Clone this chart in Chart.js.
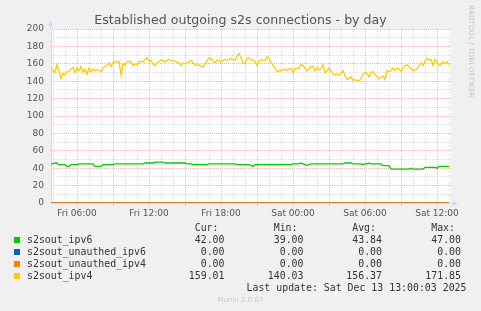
<!DOCTYPE html>
<html>
<head>
<meta charset="utf-8">
<script src="https://cdn.jsdelivr.net/npm/chart.js@4.4.1/dist/chart.umd.min.js"></script>
<style>
  html, body { margin: 0; padding: 0; background: #f0f0f0; }
  #wrap { position: relative; width: 481px; height: 311px; overflow: hidden; font-family: "DejaVu Sans", sans-serif; }
  #c { position: absolute; left: 0; top: 0; }
  .txt { position: absolute; white-space: pre; line-height: 12px; }
  .mono { font-family: "DejaVu Sans Mono", monospace; font-size: 9.9px; color: #333; }
  #title { left: 0; width: 481px; top: 12px; text-align: center; font-size: 12.6px; color: #555; line-height: 15px; }
  #rrd { left: 466px; top: 5px; writing-mode: vertical-rl; font-size: 7.2px; color: #c4c4c4; line-height: 10px; }
  #munin { left: 0; width: 481px; top: 295px; text-align: center; font-size: 7px; color: #c8c8c8; line-height: 10px; }
  .sw { position: absolute; width: 6px; height: 6px; }
</style>
</head>
<body>
<div id="wrap">
  <canvas id="c" width="481" height="311"></canvas>
  <div id="title" class="txt">Established outgoing s2s connections - by day</div>
  <div id="rrd" class="txt">RRDTOOL / TOBI OETIKER</div>
  <div id="munin" class="txt">Munin 2.0.67</div>
</div>
<script>
// samples every 10 minutes, first one Fri 03:50 (hours counted from Fri 00:00)
const startHour = 3 + 50 / 60;
const stepHours = 10 / 60;

const ipv6 = [
  45,45,46,46,44,44,44,44,42,42, 44,44,44,44,45,45,45,45,45,45,
  45,45,42,42,42,42,44,44,44,44, 44,44,45,45,45,45,45,45,45,45,
  45,45,45,45,45,45,45,46,46,46, 46,46,47,47,47,47,47,46,46,46,
  46,46,46,46,46,46,46,46,45,45, 45,44,44,44,44,44,44,44,44,45,
  45,45,45,45,45,45,45,45,45,45, 45,45,45,44,44,44,44,44,44,44,
  43,42,44,44,44,44,44,44,44,44, 44,44,44,44,44,44,44,44,44,44,
  44,45,45,45,45,46,45,44,43,44, 45,45,45,45,45,45,45,45,45,45,
  45,45,45,45,45,45,45,46,46,46, 46,45,45,45,45,45,44,45,45,46,
  45,45,45,45,45,45,43,43,43,43, 39,39,39,39,39,39,39,39,39,39,
  40,39,39,39,39,39,39,41,41,41, 41,41,41,40,42,42,42,42,42,42
];
const ipv4 = [
  156,152,150,159,152,143,149,147,151,151, 154,156,150,155,152,157,150,154,148,155,
  151,154,152,153,153,151,155,157,158,161, 157,161,163,162,163,147,160,158,162,163,
  162,158,160,159,162,163,162,165,167,163, 164,160,158,161,163,164,164,162,164,165,
  164,163,163,162,161,158,161,160,161,162, 164,161,159,158,159,157,156,160,163,167,
  166,163,161,164,164,162,164,165,164,165, 166,165,164,168,171.85,167,161,160,166,167,
  164,165,163,158,163,165,164,164,168,166, 162,158,155,151,152,152,153,154,152,154,
  155,150,154,155,155,159,158,155,152,154, 157,157,152,156,153,154,159,150,152,155,
  152,148,147,148,147,149,152,146,142,143, 145,141,142,141,140.03,143,148,150,149,145,
  150,151,148,145,143,145,146,142,152,151, 152,155,152,155,154,151,155,158,159,157,
  155,152,153,154,158,161,158,163,166,164, 165,158,165,162,158,159,162,160,162,159.01
];
const unauthedIpv6 = [0, 0];
const unauthedIpv4 = [0, 0];

const xTickHours = [6, 12, 18, 24, 30, 36];
const xTickLabels = ['Fri 06:00', 'Fri 12:00', 'Fri 18:00', 'Sat 00:00', 'Sat 06:00', 'Sat 12:00'];

const legendNames = ['s2sout_ipv6', 's2sout_unauthed_ipv6', 's2sout_unauthed_ipv4', 's2sout_ipv4'];
const legendColors = ['#00CC00', '#0066B3', '#FF8000', '#FFCC00'];
const curVals = ['42.00', '0.00', '0.00', '159.01'];
const minVals = ['39.00', '0.00', '0.00', '140.03'];
const avgVals = ['43.84', '0.00', '0.00', '156.37'];
const maxVals = ['47.00', '0.00', '0.00', '171.85'];
const lastUpdate = 'Last update: Sat Dec 13 13:00:03 2025';

const times = ipv4.map((_, i) => startHour + i * stepHours);
const edgeTimes = [times[0], times[times.length - 1]];
const pts = (vals, ts) => vals.map((v, i) => ({ x: ts[i], y: v }));

const MAJOR = '#ebbcbc', MINOR = '#dedede', AXIS = '#CFD6F8';

// white canvas behind the plot, axis arrows like rrdtool
const muninFrame = {
  id: 'muninFrame',
  beforeDraw(chart) {
    const { ctx, chartArea: a } = chart;
    ctx.save();
    ctx.fillStyle = '#fff';
    ctx.fillRect(a.left, a.top, a.right - a.left, a.bottom - a.top);
    ctx.restore();
  },
  afterDraw(chart) {
    const { ctx, chartArea: a } = chart;
    ctx.save();
    ctx.strokeStyle = AXIS;
    ctx.fillStyle = AXIS;
    ctx.lineWidth = 1;
    ctx.beginPath();
    ctx.moveTo(a.left - 0.5, a.top);
    ctx.lineTo(a.left - 0.5, a.top - 4);
    ctx.moveTo(a.right, a.bottom + 0.5);
    ctx.lineTo(a.right + 3, a.bottom + 0.5);
    ctx.stroke();
    ctx.beginPath();
    ctx.moveTo(a.left - 3, a.top - 3);
    ctx.lineTo(a.left + 2, a.top - 3);
    ctx.lineTo(a.left - 0.5, a.top - 8);
    ctx.closePath();
    ctx.fill();
    ctx.beginPath();
    ctx.moveTo(a.right + 2, a.bottom - 2);
    ctx.lineTo(a.right + 2, a.bottom + 3);
    ctx.lineTo(a.right + 7, a.bottom + 0.5);
    ctx.closePath();
    ctx.fill();
    ctx.restore();
  }
};

new Chart(document.getElementById('c').getContext('2d'), {
  type: 'line',
  data: {
    datasets: [
      { label: legendNames[0], data: pts(ipv6, times), borderColor: legendColors[0], order: 4 },
      { label: legendNames[1], data: pts(unauthedIpv6, edgeTimes), borderColor: legendColors[1], order: 3 },
      { label: legendNames[2], data: pts(unauthedIpv4, edgeTimes), borderColor: legendColors[2], order: 2 },
      { label: legendNames[3], data: pts(ipv4, times), borderColor: legendColors[3], order: 1 }
    ]
  },
  options: {
    responsive: false,
    animation: false,
    elements: { point: { radius: 0 }, line: { borderWidth: 1.3, tension: 0 } },
    layout: { padding: { left: 0, top: 29, right: 30, bottom: 88 } },
    plugins: { legend: { display: false }, tooltip: { enabled: false }, title: { display: false } },
    scales: {
      x: {
        type: 'linear',
        min: 3 + 50 / 60,
        max: 37 + 10 / 60,
        afterFit: s => { s.height = 20; },
        afterBuildTicks: s => {
          const t = [];
          for (let h = Math.ceil(s.min); h <= Math.floor(s.max); h++) t.push({ value: h });
          s.ticks = t;
        },
        ticks: {
          autoSkip: false, maxRotation: 0, padding: 2, color: '#555',
          font: { family: 'DejaVu Sans', size: 9 },
          callback: v => { const k = xTickHours.indexOf(v); return k >= 0 ? xTickLabels[k] : ''; }
        },
        grid: {
          color: c => (c.tick && c.tick.value % 3 === 0 ? MAJOR : MINOR),
          tickColor: c => (c.tick && c.tick.value % 3 === 0 ? MAJOR : 'rgba(0,0,0,0)'),
          tickLength: 3
        },
        border: { display: true, color: AXIS, dash: [1, 1] }
      },
      y: {
        min: 0,
        max: 200,
        afterFit: s => { s.width = 51; },
        afterBuildTicks: s => {
          const t = [];
          for (let v = 0; v <= 200; v += 10) t.push({ value: v });
          s.ticks = t;
        },
        ticks: {
          autoSkip: false, padding: 7, color: '#555',
          font: { family: 'DejaVu Sans', size: 9 },
          callback: v => (v % 20 === 0 ? String(v) : '')
        },
        grid: {
          drawTicks: false,
          color: c => (c.tick && c.tick.value % 20 === 0 ? MAJOR : MINOR)
        },
        border: { display: true, color: AXIS, dash: [1, 1] }
      }
    }
  },
  plugins: [muninFrame]
});

// legend table (rrdtool GPRINT style)
const wrap = document.getElementById('wrap');
function put(text, rightX, centerY) {
  const d = document.createElement('div');
  d.className = 'txt mono';
  d.textContent = text;
  d.style.right = (481 - rightX) + 'px';
  d.style.top = (centerY - 6) + 'px';
  wrap.appendChild(d);
}
const colRight = [224.5, 303.5, 382, 461];
const headers = ['Cur:', 'Min:', 'Avg:', 'Max:'];
headers.forEach((h, j) => put(h, colRight[j] - 6, 228));
const rowY = [239.5, 251.5, 263.5, 276];
legendNames.forEach((name, i) => {
  const sw = document.createElement('div');
  sw.className = 'sw';
  sw.style.left = '14px';
  sw.style.top = (rowY[i] - 3) + 'px';
  sw.style.background = legendColors[i];
  wrap.appendChild(sw);
  const n = document.createElement('div');
  n.className = 'txt mono';
  n.textContent = name;
  n.style.left = '27px';
  n.style.top = (rowY[i] - 6) + 'px';
  wrap.appendChild(n);
  [curVals, minVals, avgVals, maxVals].forEach((col, j) => put(col[i], colRight[j], rowY[i]));
});
put(lastUpdate, 466.5, 287.5);
</script>
</body>
</html>
